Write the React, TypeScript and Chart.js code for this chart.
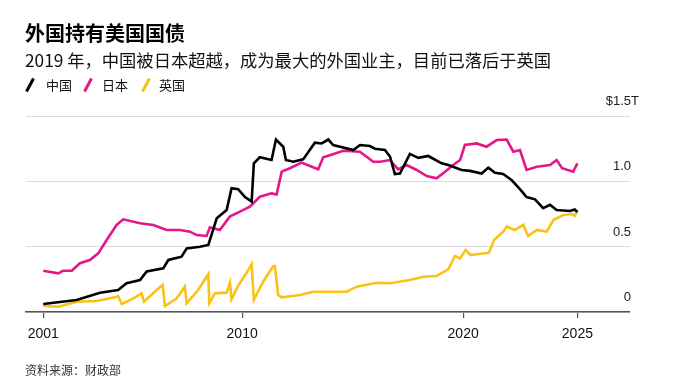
import React, { useEffect, useRef } from 'react';
import { Chart, registerables } from 'chart.js';
Chart.register(...registerables);

const chinaYears = [2001.00, 2002.51, 2003.57, 2004.39, 2004.77, 2005.38, 2005.68, 2006.43, 2006.66, 2007.26, 2007.49, 2008.09, 2008.47, 2008.85, 2009.30, 2009.52, 2009.82, 2010.13, 2010.43, 2010.53, 2010.80, 2011.33, 2011.53, 2011.86, 2011.98, 2012.31, 2012.76, 2013.29, 2013.60, 2013.90, 2014.12, 2015.03, 2015.33, 2015.78, 2016.01, 2016.46, 2016.69, 2016.91, 2017.14, 2017.59, 2017.97, 2018.42, 2019.03, 2019.33, 2019.93, 2020.31, 2020.84, 2021.14, 2021.44, 2021.81, 2022.19, 2022.57, 2022.87, 2023.25, 2023.62, 2023.93, 2024.23, 2024.83, 2025.05, 2025.17];
const chinaValues = [0.061, 0.092, 0.148, 0.168, 0.22, 0.245, 0.31, 0.334, 0.398, 0.423, 0.487, 0.50, 0.513, 0.717, 0.78, 0.947, 0.94, 0.88, 0.845, 1.138, 1.184, 1.163, 1.32, 1.265, 1.163, 1.15, 1.168, 1.296, 1.29, 1.32, 1.278, 1.24, 1.278, 1.27, 1.25, 1.24, 1.19, 1.056, 1.06, 1.21, 1.18, 1.194, 1.138, 1.125, 1.087, 1.08, 1.06, 1.105, 1.066, 1.056, 1.01, 0.94, 0.88, 0.862, 0.794, 0.82, 0.78, 0.773, 0.784, 0.765];

const japanYears = [2001.00, 2001.68, 2001.90, 2002.29, 2002.66, 2003.11, 2003.49, 2003.87, 2004.32, 2004.62, 2005.38, 2005.98, 2006.58, 2007.19, 2007.64, 2007.94, 2008.39, 2008.54, 2008.99, 2009.44, 2009.90, 2010.35, 2010.80, 2011.33, 2011.56, 2011.79, 2012.16, 2012.69, 2013.15, 2013.44, 2013.67, 2013.97, 2014.57, 2015.33, 2015.93, 2016.24, 2016.69, 2017.06, 2017.44, 2017.90, 2018.35, 2018.80, 2019.18, 2019.55, 2019.86, 2020.08, 2020.61, 2021.06, 2021.52, 2021.97, 2022.27, 2022.57, 2022.87, 2023.33, 2023.93, 2024.23, 2024.48, 2024.98, 2025.17];
const japanValues = [0.316, 0.296, 0.316, 0.316, 0.373, 0.398, 0.449, 0.551, 0.666, 0.709, 0.679, 0.666, 0.628, 0.628, 0.615, 0.589, 0.582, 0.648, 0.628, 0.73, 0.768, 0.806, 0.882, 0.908, 0.90, 1.074, 1.10, 1.143, 1.112, 1.092, 1.184, 1.20, 1.234, 1.227, 1.15, 1.15, 1.163, 1.092, 1.125, 1.087, 1.04, 1.023, 1.074, 1.125, 1.163, 1.278, 1.29, 1.265, 1.316, 1.32, 1.227, 1.24, 1.087, 1.112, 1.125, 1.163, 1.10, 1.074, 1.138];

const ukYears = [2001.00, 2001.68, 2002.51, 2003.42, 2004.24, 2004.39, 2004.55, 2005.00, 2005.45, 2005.56, 2006.13, 2006.40, 2006.51, 2007.04, 2007.41, 2007.49, 2008.01, 2008.47, 2008.51, 2008.77, 2009.30, 2009.45, 2009.52, 2009.82, 2010.20, 2010.43, 2010.53, 2010.95, 2011.41, 2011.48, 2011.63, 2011.79, 2012.62, 2013.22, 2014.12, 2014.73, 2015.18, 2016.09, 2016.69, 2017.59, 2018.19, 2018.80, 2019.33, 2019.63, 2019.86, 2020.11, 2020.34, 2020.72, 2021.17, 2021.40, 2021.81, 2021.97, 2022.34, 2022.72, 2022.94, 2023.33, 2023.78, 2024.08, 2024.53, 2024.91, 2025.05, 2025.17];
const ukValues = [0.046, 0.04, 0.079, 0.084, 0.112, 0.122, 0.061, 0.097, 0.143, 0.079, 0.168, 0.207, 0.046, 0.105, 0.194, 0.067, 0.168, 0.291, 0.067, 0.143, 0.148, 0.224, 0.097, 0.2, 0.30, 0.367, 0.092, 0.232, 0.352, 0.352, 0.13, 0.112, 0.13, 0.155, 0.155, 0.155, 0.194, 0.224, 0.22, 0.245, 0.27, 0.276, 0.327, 0.429, 0.41, 0.475, 0.436, 0.444, 0.454, 0.551, 0.615, 0.653, 0.628, 0.666, 0.582, 0.628, 0.615, 0.704, 0.742, 0.75, 0.735, 0.773];

const seriesNames = ['中国', '日本', '英国'];
const seriesColors = ['#000000', '#e6168a', '#fbc214'];
const xTickValues = [2001, 2010, 2020, 2025.17];
const xTickLabels = ['2001', '2010', '2020', '2025'];
const yTickValues = [0, 0.5, 1, 1.5];
const yTickLabels = ['0', '0.5', '1.0', '$1.5T'];

const NUM_FONT = '"Liberation Sans", Arial, Helvetica, sans-serif';
const CJK_FONT = '"Noto Sans CJK SC", "Noto Sans", sans-serif';

const yLabelPlugin = {
  id: 'yLabels',
  afterDraw(chart: any) {
    const { ctx, chartArea, scales } = chart;
    const y = scales.y;
    ctx.save();
    ctx.font = '13px ' + NUM_FONT;
    ctx.fillStyle = '#222';
    ctx.textBaseline = 'middle';
    yTickValues.forEach((v, i) => {
      const py = y.getPixelForValue(v) - 14.5;
      const label = yTickLabels[i];
      const rx = chartArea.right + 1;
      if (label.endsWith('T')) {
        ctx.textAlign = 'right';
        ctx.fillText(label.slice(0, -1), rx, py);
        ctx.textAlign = 'left';
        ctx.fillText('T', rx, py);
      } else {
        ctx.textAlign = 'right';
        ctx.fillText(label, rx, py);
      }
    });
    ctx.restore();
  },
};

function Slash({ color, left }: { color: string; left: number }) {
  return (
    <svg width="10" height="16" style={{ position: 'absolute', left, top: 77 }}>
      <line x1="1.5" y1="14.5" x2="8.5" y2="1.5" stroke={color} strokeWidth="3" />
    </svg>
  );
}

export default function App() {
  const canvasRef = useRef<HTMLCanvasElement | null>(null);

  useEffect(() => {
    if (!canvasRef.current) return;
    const makeData = (xs: number[], vs: number[]) => xs.map((x, i) => ({ x, y: vs[i] }));
    const chart = new Chart(canvasRef.current, {
      type: 'line',
      data: {
        datasets: [
          { label: seriesNames[0], data: makeData(chinaYears, chinaValues), borderColor: seriesColors[0], borderWidth: 2.6, pointRadius: 0, tension: 0 },
          { label: seriesNames[1], data: makeData(japanYears, japanValues), borderColor: seriesColors[1], borderWidth: 2.6, pointRadius: 0, tension: 0 },
          { label: seriesNames[2], data: makeData(ukYears, ukValues), borderColor: seriesColors[2], borderWidth: 2.6, pointRadius: 0, tension: 0 },
        ],
      },
      options: {
        animation: false,
        responsive: true,
        maintainAspectRatio: false,
        layout: { padding: { left: 26, right: 50, top: 116, bottom: 38 } },
        plugins: { legend: { display: false }, tooltip: { enabled: false } },
        scales: {
          x: {
            type: 'linear',
            min: 2000.22,
            max: 2027.55,
            afterBuildTicks: (scale: any) => {
              scale.ticks = xTickValues.map((v) => ({ value: v }));
            },
            afterFit: (scale: any) => {
              scale.height = 40;
            },
            ticks: {
              autoSkip: false,
              maxRotation: 0,
              padding: 8,
              color: '#111',
              font: { size: 14, family: NUM_FONT },
              callback: (_v: any, i: number) => xTickLabels[i],
            },
            grid: { drawOnChartArea: false, drawTicks: true, tickLength: 6, color: '#555', lineWidth: 1.2 },
            border: { display: true, color: '#555', width: 1.5 },
          },
          y: {
            type: 'linear',
            position: 'right',
            min: 0,
            max: 1.5,
            afterBuildTicks: (scale: any) => {
              scale.ticks = yTickValues.map((v) => ({ value: v }));
            },
            afterFit: (scale: any) => {
              scale.width = 0;
            },
            ticks: { display: false },
            grid: { drawTicks: false, color: '#dcdcdc', lineWidth: 1 },
            border: { display: false },
          },
        },
      },
      plugins: [yLabelPlugin],
    } as any);
    return () => chart.destroy();
  }, []);

  return (
    <div style={{ position: 'absolute', left: 0, top: 0, width: 680, height: 390, background: '#fff', overflow: 'hidden' }}>
      <canvas ref={canvasRef} />
      <div style={{ position: 'absolute', left: 25, top: 22, fontFamily: CJK_FONT, fontWeight: 700, fontSize: 20, lineHeight: '22px', color: '#000', whiteSpace: 'nowrap' }}>
        外国持有美国国债
      </div>
      <div style={{ position: 'absolute', left: 25, top: 50, fontFamily: CJK_FONT, fontSize: 17.3, lineHeight: '20px', color: '#111', whiteSpace: 'nowrap' }}>
        2019 年，中国被日本超越，成为最大的外国业主，目前已落后于英国
      </div>
      <Slash color={seriesColors[0]} left={25} />
      <div style={{ position: 'absolute', left: 46, top: 76, fontFamily: CJK_FONT, fontSize: 13, lineHeight: '18px', color: '#111' }}>{seriesNames[0]}</div>
      <Slash color={seriesColors[1]} left={83} />
      <div style={{ position: 'absolute', left: 102, top: 76, fontFamily: CJK_FONT, fontSize: 13, lineHeight: '18px', color: '#111' }}>{seriesNames[1]}</div>
      <Slash color={seriesColors[2]} left={141} />
      <div style={{ position: 'absolute', left: 159, top: 76, fontFamily: CJK_FONT, fontSize: 13, lineHeight: '18px', color: '#111' }}>{seriesNames[2]}</div>
      <div style={{ position: 'absolute', left: 25, top: 361, fontFamily: CJK_FONT, fontSize: 12, lineHeight: '18px', color: '#333', whiteSpace: 'nowrap' }}>
        资料来源：财政部
      </div>
    </div>
  );
}
